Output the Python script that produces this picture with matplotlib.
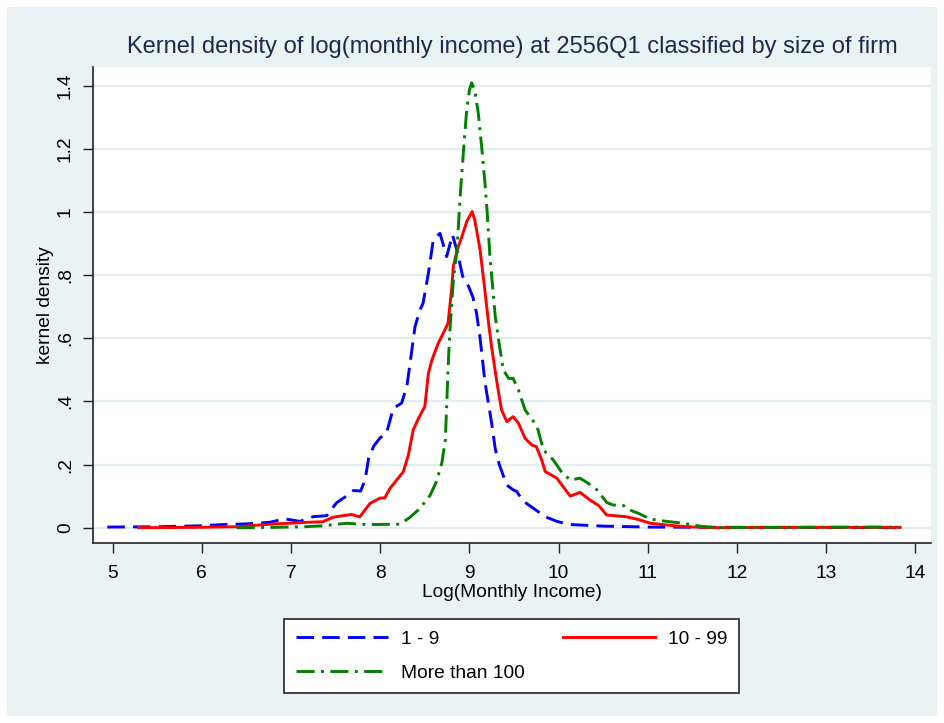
import matplotlib
matplotlib.use("Agg")
import matplotlib.pyplot as plt
from matplotlib.patches import Rectangle

plt.rcParams['font.family'] = ['Liberation Sans', 'DejaVu Sans']

# ---- data ----
x_small = [4.94, 5.5, 5.98, 6.24, 6.5, 6.76, 6.93, 7.10, 7.25, 7.40, 7.51, 7.62, 7.70, 7.78,
           7.83, 7.87, 7.93, 8.0, 8.07, 8.147, 8.24, 8.30, 8.334, 8.39, 8.446, 8.48, 8.54,
           8.595, 8.67, 8.745, 8.81, 8.864, 8.925, 8.99, 9.04, 9.08, 9.12, 9.175, 9.21, 9.25,
           9.29, 9.335, 9.38, 9.42, 9.49, 9.53, 9.60, 9.72, 9.85, 9.98, 10.13, 10.5, 11.0,
           12.0, 13.0, 13.83]
y_small = [0.002, 0.003, 0.006, 0.010, 0.012, 0.017, 0.028, 0.020, 0.035, 0.038, 0.079, 0.100,
           0.118, 0.116, 0.151, 0.22, 0.26, 0.285, 0.30, 0.378, 0.395, 0.45, 0.52, 0.637, 0.69,
           0.711, 0.806, 0.912, 0.933, 0.859, 0.928, 0.875, 0.796, 0.765, 0.73, 0.68, 0.60,
           0.46, 0.40, 0.33, 0.25, 0.20, 0.165, 0.135, 0.12, 0.115, 0.085, 0.061, 0.035, 0.02,
           0.01, 0.005, 0.002, 0.001, 0.001, 0.000]

x_mid = [5.29, 5.9, 6.39, 6.76, 7.18, 7.36, 7.47, 7.58, 7.68, 7.77, 7.885, 8.0, 8.05, 8.11,
         8.185, 8.26, 8.315, 8.37, 8.43, 8.50, 8.54, 8.58, 8.65, 8.73, 8.76, 8.80, 8.82, 8.875,
         8.915, 8.97, 9.03, 9.06, 9.12, 9.17, 9.21, 9.25, 9.31, 9.36, 9.42, 9.49, 9.55, 9.625,
         9.70, 9.75, 9.81, 9.85, 9.98, 10.13, 10.24, 10.35, 10.45, 10.54, 10.75, 10.88, 11.03,
         11.21, 11.43, 11.73, 12.5, 13.83]
y_mid = [0.0, 0.001, 0.003, 0.011, 0.017, 0.019, 0.033, 0.038, 0.042, 0.034, 0.077, 0.094,
         0.094, 0.125, 0.151, 0.178, 0.23, 0.31, 0.347, 0.384, 0.489, 0.532, 0.584, 0.630,
         0.648, 0.753, 0.830, 0.89, 0.922, 0.97, 1.002, 0.975, 0.88, 0.76, 0.66, 0.57, 0.458,
         0.373, 0.336, 0.352, 0.331, 0.283, 0.262, 0.257, 0.215, 0.178, 0.157, 0.100, 0.112,
         0.088, 0.070, 0.040, 0.035, 0.027, 0.014, 0.0086, 0.003, 0.0, 0.001, 0.001]

x_large = [6.39, 6.61, 7.14, 7.36, 7.62, 7.85, 8.22, 8.33, 8.445, 8.56, 8.63, 8.69, 8.73, 8.745,
           8.76, 8.78, 8.82, 8.86, 8.90, 8.94, 8.97, 9.0, 9.025, 9.06, 9.10, 9.14, 9.175, 9.20,
           9.23, 9.29, 9.33, 9.38, 9.44, 9.49, 9.55, 9.625, 9.72, 9.77, 9.83, 9.94, 10.03,
           10.13, 10.24, 10.33, 10.43, 10.54, 10.61, 10.73, 10.80, 10.90, 11.03, 11.21, 11.40,
           11.58, 11.73, 12.5, 13.6, 13.83]
y_large = [0.0, 0.0, 0.003, 0.006, 0.014, 0.010, 0.011, 0.032, 0.061, 0.103, 0.146, 0.204,
           0.278, 0.384, 0.5, 0.62, 0.785, 0.88, 1.065, 1.218, 1.324, 1.387, 1.41, 1.387, 1.313,
           1.20, 1.09, 0.997, 0.86, 0.669, 0.59, 0.5, 0.473, 0.473, 0.436, 0.373, 0.336, 0.31,
           0.246, 0.215, 0.178, 0.151, 0.157, 0.141, 0.12, 0.08, 0.072, 0.07, 0.056, 0.045,
           0.027, 0.020, 0.014, 0.005, 0.001, 0.001, 0.002, 0.001]

labels = ["1 - 9", "10 - 99", "More than 100"]
x_ticks = [5, 6, 7, 8, 9, 10, 11, 12, 13, 14]
y_ticks = [0, 0.2, 0.4, 0.6, 0.8, 1.0, 1.2, 1.4]
y_ticklabels = ["0", ".2", ".4", ".6", ".8", "1", "1.2", "1.4"]

BG = "#EAF2F3"
GRID = "#E3ECEE"
W, H = 944, 723
FS = 13.8

fig = plt.figure(figsize=(W / 100, H / 100), dpi=100, facecolor="white")
fig.patches.append(Rectangle((7 / W, 7 / H), 1 - 14 / W, 1 - 14 / H,
                             transform=fig.transFigure, facecolor=BG,
                             edgecolor="none", zorder=-10))

ax = fig.add_axes([92.7 / W, 1 - 543 / H, (931 - 92.7) / W, (543 - 67) / H])
ax.set_facecolor("white")

lb, = ax.plot(x_small, y_small, color="#0000FF", lw=2.1, dashes=(6.0, 2.8),
              solid_capstyle="butt", dash_capstyle="butt")
lr, = ax.plot(x_mid, y_mid, color="#FF0000", lw=2.1)
lg, = ax.plot(x_large, y_large, color="#008000", lw=2.1, dashes=(6.2, 2.2, 1.0, 2.2),
              dash_capstyle="butt")

ax.set_xlim(4.776, 14.176)
ax.set_ylim(-0.0485, 1.460)
ax.set_xticks(x_ticks)
ax.set_yticks(y_ticks)
ax.set_yticklabels(y_ticklabels, rotation=90, va="center")
ax.yaxis.grid(True, color=GRID, lw=1.6)
ax.set_axisbelow(True)
for s in ("top", "right"):
    ax.spines[s].set_visible(False)
for s in ("left", "bottom"):
    ax.spines[s].set_color("#222222")
    ax.spines[s].set_linewidth(1.2)
ax.tick_params(direction="out", length=7.5, width=1.0, color="#222222",
               labelsize=FS)
ax.tick_params(axis="x", pad=8)
ax.tick_params(axis="y", pad=6)
ax.set_xlabel("Log(Monthly Income)", fontsize=FS, labelpad=2)
ax.set_ylabel("kernel density", fontsize=FS, labelpad=2)

fig.text((92.7 + 931) / 2 / W, 1 - 47 / H,
         "Kernel density of log(monthly income) at 2556Q1 classified by size of firm",
         ha="center", va="center", fontsize=17, color="#1c2a4e")

leg = fig.legend([lb, lg, lr], [labels[0], labels[2], labels[1]], ncol=2,
                 loc="center", bbox_to_anchor=((286 + 737) / 2 / W, 1 - 656 / H),
                 frameon=True, fancybox=False, edgecolor="#222222", fontsize=FS,
                 handlelength=4.8, handletextpad=0.68, columnspacing=2.0,
                 labelspacing=0.85, borderpad=0.62, framealpha=1.0)
leg.get_frame().set_linewidth(1.2)
leg.get_frame().set_facecolor("white")

fig.savefig("out.png", dpi=100, facecolor=fig.get_facecolor())
